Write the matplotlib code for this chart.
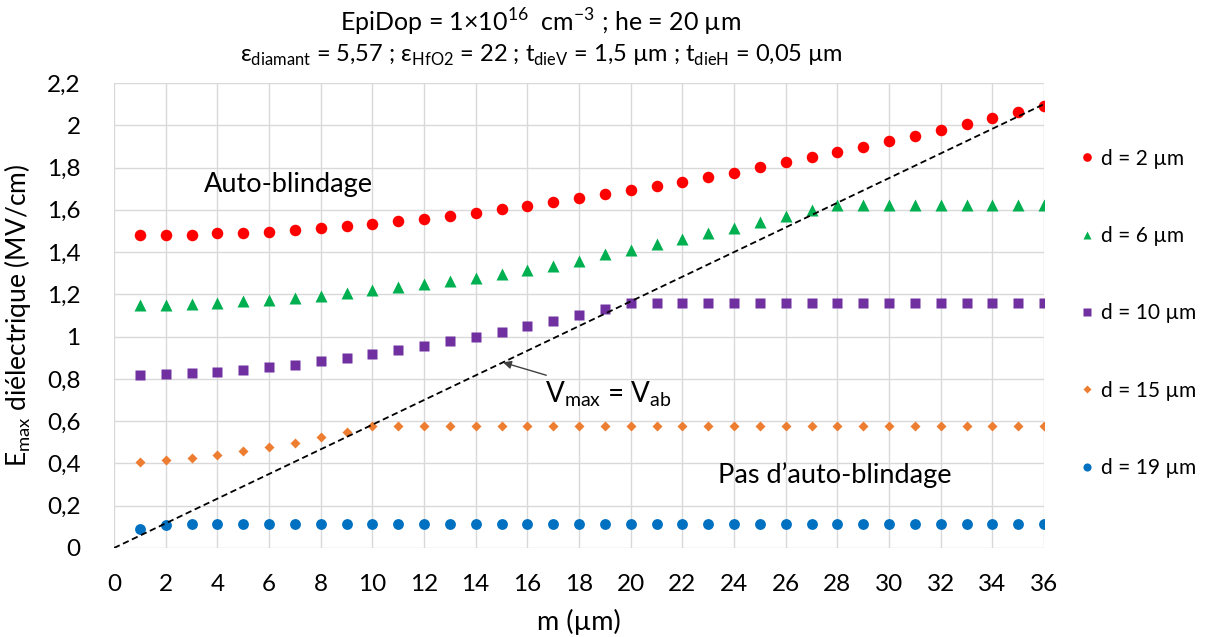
import matplotlib
matplotlib.use("Agg")
import matplotlib.pyplot as plt
from matplotlib.ticker import MultipleLocator, FuncFormatter

plt.rcParams['font.family'] = ['Lato', 'DejaVu Sans']
plt.rcParams['mathtext.fontset'] = 'custom'
plt.rcParams['mathtext.rm'] = 'Lato'

# ---- data ----
m = list(range(1, 37))
d2 = [1.479, 1.480, 1.483, 1.488, 1.491, 1.497, 1.505, 1.513, 1.525, 1.534,
      1.545, 1.558, 1.570, 1.584, 1.602, 1.618, 1.637, 1.654, 1.673, 1.694,
      1.713, 1.733, 1.754, 1.776, 1.801, 1.826, 1.848, 1.873, 1.899, 1.926,
      1.949, 1.978, 2.006, 2.035, 2.063, 2.091]
d6 = [1.152, 1.152, 1.155, 1.159, 1.167, 1.175, 1.183, 1.194, 1.207, 1.220,
      1.234, 1.248, 1.262, 1.278, 1.297, 1.314, 1.333, 1.360, 1.390, 1.412,
      1.439, 1.463, 1.488, 1.513, 1.542, 1.570, 1.597, 1.624, 1.624, 1.624,
      1.624, 1.624, 1.624, 1.624, 1.624, 1.624]
d10 = [0.818, 0.821, 0.828, 0.834, 0.844, 0.855, 0.867, 0.883, 0.897, 0.916,
       0.935, 0.954, 0.978, 0.998, 1.024, 1.049, 1.076, 1.104, 1.131, 1.160,
       1.160, 1.160, 1.160, 1.160, 1.160, 1.160, 1.160, 1.160, 1.160, 1.160,
       1.160, 1.160, 1.160, 1.160, 1.160, 1.160]
d15 = [0.409, 0.414, 0.425, 0.439, 0.457, 0.477, 0.499, 0.525, 0.551, 0.578,
       0.578, 0.578, 0.578, 0.578, 0.578, 0.578, 0.578, 0.578, 0.578, 0.578,
       0.578, 0.578, 0.578, 0.578, 0.578, 0.578, 0.578, 0.578, 0.578, 0.578,
       0.578, 0.578, 0.578, 0.578, 0.578, 0.578]
d19 = [0.088, 0.110] + [0.112] * 34
vab_x = [0, 36]
vab_y = [0, 2.10]
labels = ['d = 2 µm', 'd = 6 µm', 'd = 10 µm', 'd = 15 µm', 'd = 19 µm']

fig = plt.figure(figsize=(12.06, 6.37), dpi=100)
ax = fig.add_axes([114/1206, 89/637, 930/1206, 465/637])

ax.plot(m, d2, 'o', color='#FF0000', ms=8.3, mec='none', label=labels[0])
ax.plot(m, d6, '^', color='#00B050', ms=8, mec='none', label=labels[1])
ax.plot(m, d10, 's', color='#7030A0', ms=7.2, mec='none', label=labels[2])
ax.plot(m, d15, 'D', color='#ED7D31', ms=5.2, mec='none', label=labels[3])
ax.plot(m, d19, 'o', color='#0070C0', ms=7.8, mec='none', label=labels[4])
ax.plot(vab_x, vab_y, '--', color='black', lw=1.3, dashes=(3.5, 2))

ax.set_xlim(0, 36)
ax.set_ylim(0, 2.2)
ax.xaxis.set_major_locator(MultipleLocator(2))
ax.yaxis.set_major_locator(MultipleLocator(0.2))
ax.yaxis.set_major_formatter(FuncFormatter(lambda v, p: ('%.1f' % v).rstrip('0').rstrip('.').replace('.', ',')))
ax.grid(True, color='#d9d9d9', lw=1)
ax.set_axisbelow(True)
for s in ax.spines.values():
    s.set_visible(False)
ax.tick_params(length=0, labelsize=17.5)
ax.tick_params(axis='y', pad=24)
ax.tick_params(axis='x', pad=19)

ax.set_xlabel('m (µm)', fontsize=19.5, labelpad=10)
ax.set_ylabel(r'E$_{\mathregular{max}}$ diélectrique (MV/cm)', fontsize=19, labelpad=10)

tx = 541 / 1206
fig.text(tx, 1 - 22/637, r'EpiDop = 1×10$^{\mathregular{16}}$  cm$^{\mathregular{-3}}$ ; he = 20 µm',
         ha='center', va='center', fontsize=18)
fig.text(tx, 1 - 55/637,
         r'ε$_{\mathregular{diamant}}$ = 5,57 ; ε$_{\mathregular{HfO2}}$ = 22 ; t$_{\mathregular{dieV}}$ = 1,5 µm ; t$_{\mathregular{dieH}}$ = 0,05 µm',
         ha='center', va='center', fontsize=17)

ax.text(3.5, 1.72, 'Auto-blindage', fontsize=19.5, va='center')
ax.text(23.4, 0.345, 'Pas d’auto-blindage', fontsize=19.5, va='center')
ax.annotate(r'V$_{\mathregular{max}}$ = V$_{\mathregular{ab}}$', xy=(15.06, 0.878), xytext=(16.7, 0.73),
            fontsize=20, va='center', ha='left',
            arrowprops=dict(arrowstyle='-|>', color='#404040', lw=1, shrinkA=2, shrinkB=0,
                            mutation_scale=12))

ax.legend(loc='upper left', bbox_to_anchor=(1.0125, 0.899), frameon=False, fontsize=15,
          labelspacing=2.75, handletextpad=0.1, handlelength=1.2, markerscale=0.75)

fig.savefig('out.png', dpi=100)
